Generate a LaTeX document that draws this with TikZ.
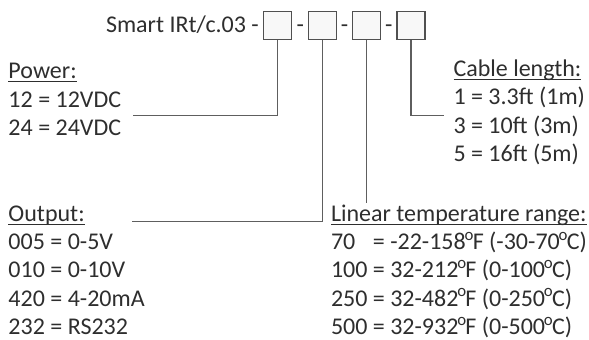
\documentclass[tikz,border=0pt]{standalone}
\usepackage{fontspec}
\setmainfont{Carlito}
\definecolor{txt}{HTML}{2E2E2E}
\definecolor{linec}{HTML}{5E5E5E}
\definecolor{boxc}{HTML}{505050}
\definecolor{boxf}{HTML}{F8F8F8}
\newcommand\myul[1]{\setbox0\hbox{#1}\rlap{\rule[-3.4pt]{\wd0}{1.1pt}}\box0}
\newcommand\dg{\kern-1.2pt\textsuperscript{o}\kern-1.2pt}
\begin{document}
\begin{tikzpicture}[x=1pt,y=-1pt,
  lbl/.style={anchor=base west,inner sep=0pt,outer sep=0pt,text=txt,font=\fontsize{24}{28}\selectfont},
  dashlbl/.style={anchor=base,inner sep=0pt,outer sep=0pt,text=txt,font=\fontsize{24}{28}\selectfont},
  codebox/.style={draw=boxc,fill=boxf,line width=1.2pt,minimum width=28pt,minimum height=28.5pt,inner sep=0pt},
  conn/.style={draw=linec,line width=1.3pt}]
\useasboundingbox (0,0) rectangle (589,340);
% heading
\node[lbl] (head) at (106,32.3) {Smart IRt/c.03 -};
\node[codebox] (b1) at (277.8,25.4) {};
\node[codebox] (b2) at (322.3,25.4) {};
\node[codebox] (b3) at (366.6,25.4) {};
\node[codebox] (b4) at (410.9,25.4) {};
\node[dashlbl] (d1) at (300.2,32.3) {-};
\node[dashlbl] (d2) at (344.5,32.3) {-};
\node[dashlbl] (d3) at (388.8,32.3) {-};
% power
\node[lbl] (pw0) at (8.5,78.3) {\myul{Power:}};
\node[lbl] (pw1) at (8.5,107) {12 = 12VDC};
\node[lbl] (pw2) at (8.5,135.5) {24 = 24VDC};
% cable
\node[lbl] (cb0) at (453.5,76.5) {\myul{Cable length:}};
\node[lbl] (cb1) at (453.5,104.8) {1 = 3.3ft (1m)};
\node[lbl] (cb2) at (453.5,133.2) {3 = 10ft (3m)};
\node[lbl] (cb3) at (453.5,161.6) {5 = 16ft (5m)};
% output
\node[lbl] (op0) at (8.5,221.2) {\myul{Output:}};
\node[lbl] (op1) at (8.5,249.4) {005 = 0-5V};
\node[lbl] (op2) at (8.5,277.7) {010 = 0-10V};
\node[lbl] (op3) at (8.5,306) {420 = 4-20mA};
\node[lbl] (op4) at (8.5,334.3) {232 = RS232};
% temperature
\node[lbl] (tp0) at (331,221.2) {\myul{Linear temperature range:}};
\node[lbl] (tp1) at (331,249.4) {70\hphantom{0} = -22-158\dg F (-30-70\dg C)};
\node[lbl] (tp2) at (331,277.7) {100 = 32-212\dg F (0-100\dg C)};
\node[lbl] (tp3) at (331,306) {250 = 32-482\dg F (0-250\dg C)};
\node[lbl] (tp4) at (331,334.3) {500 = 32-932\dg F (0-500\dg C)};
% connector ends
\coordinate (pwend) at (132.5,115.6);
\coordinate (outend) at (131.5,221.5);
\coordinate (tmpend) at (366.6,203);
\coordinate (cabend) at (443.5,115.6);
% connectors
\draw[conn] (b1.south) |- (pwend);
\draw[conn] (b2.south) |- (outend);
\draw[conn] (b3.south) -- (tmpend);
\draw[conn] (b4.south) |- (cabend);
\end{tikzpicture}
\end{document}
